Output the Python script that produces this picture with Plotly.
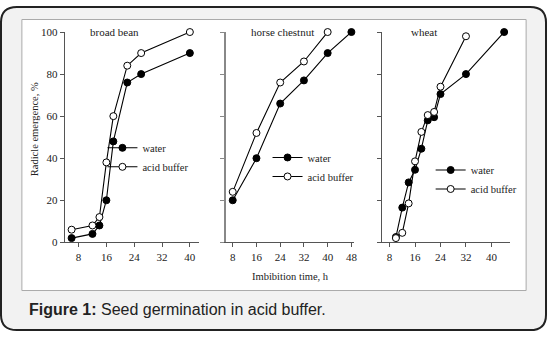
import plotly.graph_objects as go

W, H = 551, 338

# ---- data ----
bean_x_water = [6, 12, 14, 16, 18, 22, 26, 40]
bean_y_water = [2, 4, 8, 20, 48, 76, 80, 90]
bean_x_acid = [6, 12, 14, 16, 18, 22, 26, 40]
bean_y_acid = [6, 8, 12, 38, 60, 84, 90, 100]

chest_x_water = [8, 16, 24, 32, 40, 48]
chest_y_water = [20, 40, 66, 77, 90, 100]
chest_x_acid = [8, 16, 24, 32, 40]
chest_y_acid = [24, 52, 76, 86, 100]

wheat_x_water = [10, 12, 14, 16, 18, 20, 22, 24, 32, 44]
wheat_y_water = [2.5, 16.5, 28.5, 34.5, 44.5, 58, 59.5, 70.5, 80, 100]
wheat_x_acid = [10, 12, 14, 16, 18, 20, 22, 24, 32]
wheat_y_acid = [2, 4.5, 18.5, 38.5, 52.5, 60.5, 62, 74, 98]

panel_titles = ["broad bean", "horse chestnut", "wheat"]
series_names = ["water", "acid buffer"]
y_ticks = [0, 20, 40, 60, 80, 100]
x_ticks_bean = [8, 16, 24, 32, 40]
x_ticks_chest = [8, 16, 24, 32, 40, 48]
x_ticks_wheat = [8, 16, 24, 32, 40]

SERIF = "Liberation Serif"


def px(x):
    return x / W


def py(y):
    return 1 - y / H


fig = go.Figure()

panels = [
    (bean_x_water, bean_y_water, bean_x_acid, bean_y_acid, "", "legend"),
    (chest_x_water, chest_y_water, chest_x_acid, chest_y_acid, "2", "legend2"),
    (wheat_x_water, wheat_y_water, wheat_x_acid, wheat_y_acid, "3", "legend3"),
]

for xw, yw, xa, ya, ax, lg in panels:
    fig.add_trace(go.Scatter(
        x=xw, y=yw, name=series_names[0], mode="lines+markers",
        xaxis="x" + ax, yaxis="y" + ax, legend=lg, cliponaxis=False,
        line=dict(color="black", width=1.1),
        marker=dict(symbol="circle", size=7, color="black",
                    line=dict(color="black", width=1)),
    ))
    fig.add_trace(go.Scatter(
        x=xa, y=ya, name=series_names[1], mode="lines+markers",
        xaxis="x" + ax, yaxis="y" + ax, legend=lg, cliponaxis=False,
        line=dict(color="black", width=1.1),
        marker=dict(symbol="circle", size=7, color="white",
                    line=dict(color="black", width=1)),
    ))

ydom = [py(245), py(27)]
tickfont = dict(family=SERIF, size=11, color="#222")


def xaxis(dom, rng, ticks, anchor, color="#555", width=1):
    return dict(domain=[px(dom[0]), px(dom[1])], range=rng, tickvals=ticks,
                showgrid=False, zeroline=False, showline=True,
                linecolor=color, linewidth=width, ticks="outside",
                ticklen=4, tickcolor=color, tickfont=tickfont,
                anchor=anchor, fixedrange=True)


def yaxis(anchor, labels, color="#555", width=1):
    return dict(domain=ydom, range=[0, 100], tickvals=y_ticks,
                showgrid=False, zeroline=False, showline=True,
                linecolor=color, linewidth=width, ticks="outside",
                ticklen=4, tickcolor=color, tickfont=tickfont,
                showticklabels=labels, anchor=anchor, fixedrange=True)


legend_common = dict(bgcolor="rgba(0,0,0,0)", borderwidth=0,
                     font=dict(family=SERIF, size=10.5, color="#222"),
                     xanchor="left", yanchor="top", itemwidth=30)

fig.update_layout(
    width=W, height=H,
    margin=dict(l=0, r=0, t=0, b=0),
    paper_bgcolor="white", plot_bgcolor="rgba(0,0,0,0)",
    xaxis=xaxis([65, 200], [4, 42.6], x_ticks_bean, "y"),
    yaxis=yaxis("x", True),
    xaxis2=xaxis([227, 356], [5.65, 48.9], x_ticks_chest, "y2"),
    yaxis2=yaxis("x2", False, color="#888", width=2),
    xaxis3=xaxis([384, 513], [5.6, 45.9], x_ticks_wheat, "y3"),
    yaxis3=yaxis("x3", False),
    legend=dict(**legend_common, x=px(103), y=py(132)),
    legend2=dict(**legend_common, x=px(269), y=py(142)),
    legend3=dict(**legend_common, x=px(433), y=py(155)),
    showlegend=True,
)

# background: rounded frame and white panel
r = 16
x0, y0, x1, y1 = 1, 1, 549, 336
path = (f"M {px(x0 + r)},{py(y0)} L {px(x1 - r)},{py(y0)} "
        f"Q {px(x1)},{py(y0)} {px(x1)},{py(y0 + r)} "
        f"L {px(x1)},{py(y1 - r)} Q {px(x1)},{py(y1)} {px(x1 - r)},{py(y1)} "
        f"L {px(x0 + r)},{py(y1)} Q {px(x0)},{py(y1)} {px(x0)},{py(y1 - r)} "
        f"L {px(x0)},{py(y0 + r)} Q {px(x0)},{py(y0)} {px(x0 + r)},{py(y0)} Z")
fig.add_shape(type="path", path=path, xref="paper", yref="paper",
              fillcolor="#f2f2f2", line=dict(color="#222", width=2), layer="below")
fig.add_shape(type="rect", xref="paper", yref="paper",
              x0=px(22), x1=px(529), y0=py(295), y1=py(14),
              fillcolor="white", line=dict(color="#aaa", width=1), layer="below")

# panel titles
for title, cx in zip(panel_titles, [115, 284, 426]):
    fig.add_annotation(text=title, x=px(cx), y=py(27), xref="paper", yref="paper",
                       showarrow=False, xanchor="center", yanchor="middle",
                       font=dict(family=SERIF, size=11, color="#222"))

# axis titles
fig.add_annotation(text="Radicle emergence, %", x=px(35), y=py(128),
                   xref="paper", yref="paper", showarrow=False, textangle=-90,
                   xanchor="center", yanchor="middle",
                   font=dict(family=SERIF, size=10.5, color="#222"))
fig.add_annotation(text="Imbibition time, h", x=px(292), y=py(280),
                   xref="paper", yref="paper", showarrow=False,
                   xanchor="center", yanchor="middle",
                   font=dict(family=SERIF, size=10.5, color="#222"))

# caption
fig.add_annotation(text="<b>Figure 1:</b> Seed germination in acid buffer.",
                   x=px(27), y=py(315), xref="paper", yref="paper",
                   showarrow=False, xanchor="left", yanchor="middle",
                   font=dict(family="Liberation Sans", size=16, color="#222"))

fig.write_html("out.html")
